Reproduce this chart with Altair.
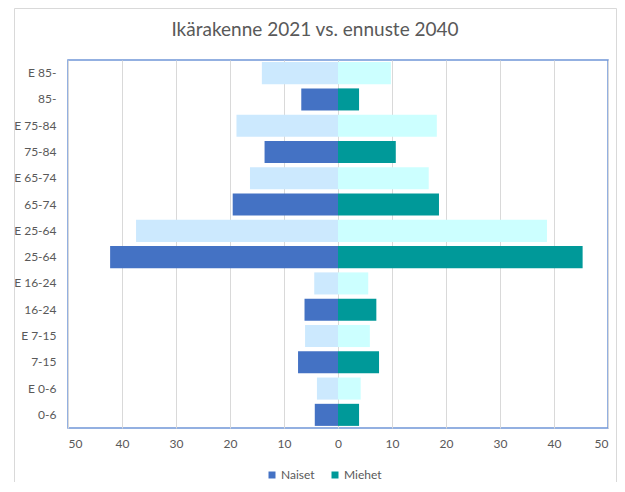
import altair as alt
import pandas as pd

categories = ["E 85-", "85-", "E 75-84", "75-84", "E 65-74", "65-74", "E 25-64",
              "25-64", "E 16-24", "16-24", "E 7-15", "7-15", "E 0-6", "0-6"]
naiset = [14.1, 6.8, 18.8, 13.6, 16.3, 19.5, 37.4, 42.2, 4.4, 6.2, 6.1, 7.4, 3.9, 4.3]
miehet = [9.8, 3.9, 18.3, 10.7, 16.8, 18.7, 38.7, 45.3, 5.6, 7.1, 5.9, 7.6, 4.2, 3.9]
x_ticks = [-50, -40, -30, -20, -10, 0, 10, 20, 30, 40, 50]
title_text = "Ikärakenne 2021 vs. ennuste 2040"

rows = []
for c, n, m in zip(categories, naiset, miehet):
    suffix = " E" if c.startswith("E ") else ""
    rows.append({"ika": c, "arvo": -n, "sarja": "Naiset" + suffix})
    rows.append({"ika": c, "arvo": m, "sarja": "Miehet" + suffix})
df = pd.DataFrame(rows)

series_domain = ["Naiset", "Miehet", "Naiset E", "Miehet E"]
series_colors = ["#4472C4", "#009999", "#CCE9FE", "#CCFFFF"]

bars = alt.Chart(df).mark_bar().encode(
    y=alt.Y("ika:N", sort=categories, title=None,
            scale=alt.Scale(paddingInner=0.16, paddingOuter=0.08),
            axis=alt.Axis(domain=False, ticks=False, labelPadding=12,
                          labelFontSize=12, labelColor="#595959")),
    x=alt.X("arvo:Q", title=None,
            scale=alt.Scale(domain=[-50, 50], nice=False),
            axis=alt.Axis(values=x_ticks, labelExpr="abs(datum.value)",
                          domain=False, ticks=False, labelPadding=10,
                          labelFontSize=12, labelColor="#595959",
                          grid=True, gridColor="#D9D9D9", gridWidth=1)),
    color=alt.Color("sarja:N",
                    scale=alt.Scale(domain=series_domain, range=series_colors),
                    legend=alt.Legend(values=["Naiset", "Miehet"], title=None,
                                      orient="none", direction="horizontal",
                                      legendX=198, legendY=409,
                                      symbolType="square", symbolSize=49,
                                      symbolStrokeWidth=0,
                                      labelFontSize=12, labelColor="#595959",
                                      labelOffset=3, columnPadding=14)),
)

one = pd.DataFrame({"teksti": [title_text]})

frame = alt.Chart(one).mark_rect(
    fillOpacity=0, stroke="#D9D9D9", strokeWidth=1
).encode(
    x=alt.value(-53.5), x2=alt.value(548.5),
    y=alt.value(-51.5), y2=alt.value(440),
)

title = alt.Chart(one).mark_text(
    fontSize=19, font="Lato", color="#595959", align="center", baseline="middle"
).encode(
    text="teksti:N",
    x=alt.value(247), y=alt.value(-30),
)

chart = alt.layer(frame, bars, title).properties(
    width=540, height=368,
    autosize=alt.AutoSizeParams(type="none"),
    padding={"left": 60, "top": 52, "right": 9, "bottom": 54},
).configure(
    font="Lato",
).configure_view(
    stroke="#7096D8", strokeWidth=1.5,
)

chart.save("out.html", embed_options={"renderer": "svg", "actions": False})
